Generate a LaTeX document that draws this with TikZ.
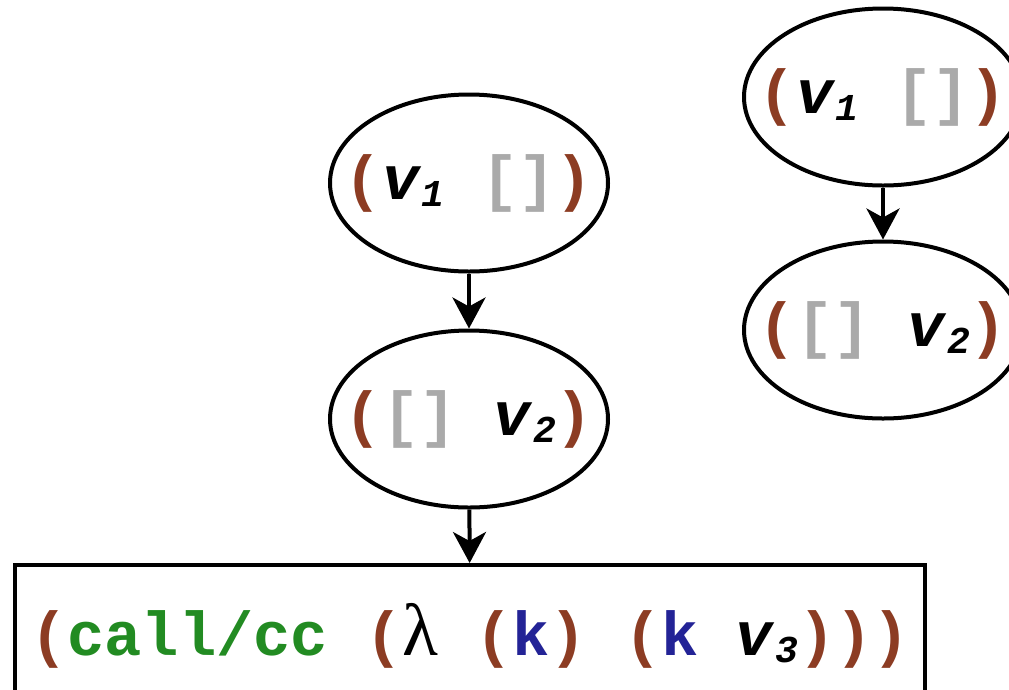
\documentclass[tikz,border=0pt]{standalone}
\usepackage{fontspec}
\setmonofont{Liberation Mono}
\newfontfamily\lamfont{Liberation Serif}
\usetikzlibrary{arrows.meta,shapes.geometric}
\definecolor{pbrown}{RGB}{140,60,35}
\definecolor{pgray}{RGB}{170,170,170}
\definecolor{pgreen}{RGB}{34,139,34}
\definecolor{pblue}{RGB}{35,35,150}
\newcommand{\myL}{\textcolor{pbrown}{(}}
\newcommand{\myR}{\textcolor{pbrown}{)}}
\newcommand{\hole}{\textcolor{pgray}{[]}}
\newcommand{\vsub}[2]{\textit{#1}\raisebox{-0.12em}{\fontsize{38}{38}\selectfont\textit{#2}}}
\newcommand{\ctr}[1]{\makebox[0pt][c]{#1}}
\begin{document}
\begin{tikzpicture}[x=1pt,y=-1pt,
  codetext/.style={font=\ttfamily\bfseries\fontsize{62}{62}\selectfont},
  state/.style={ellipse,draw,line width=4pt,minimum width=278pt,minimum height=177pt,inner sep=0pt,codetext},
  exprbox/.style={rectangle,draw,line width=4pt,minimum width=910pt,minimum height=150pt,inner sep=0pt,codetext},
  flow/.style={line width=4pt,-{Stealth[length=31pt,width=33pt,inset=9pt]}}]
\useasboundingbox (0,0) rectangle (1009,689);
\clip (0,0) rectangle (1009,689);
\node[state] (a1) at (469,183) {\ctr{\myL\vsub{v}{1} \hole\myR}};
\node[state] (a2) at (469,419) {\ctr{\myL\hole{} \vsub{v}{2}\myR}};
\node[state] (b1) at (883,97) {\ctr{\myL\vsub{v}{1} \hole\myR}};
\node[state] (b2) at (883,330) {\ctr{\myL\hole{} \vsub{v}{2}\myR}};
\node[exprbox] (box) at (470,640) {\raisebox{0.35em}{\myL\textcolor{pgreen}{call/cc} \myL{\lamfont\mdseries\upshape\fontsize{74}{74}\selectfont λ} \myL\textcolor{pblue}{k}\myR{} \myL\textcolor{pblue}{k} \vsub{v}{3}\myR\myR\myR}};
\draw[flow] (a1) -- (a2);
\draw[flow] (a2) -- (box);
\draw[flow] (b1) -- (b2);
\end{tikzpicture}
\end{document}
